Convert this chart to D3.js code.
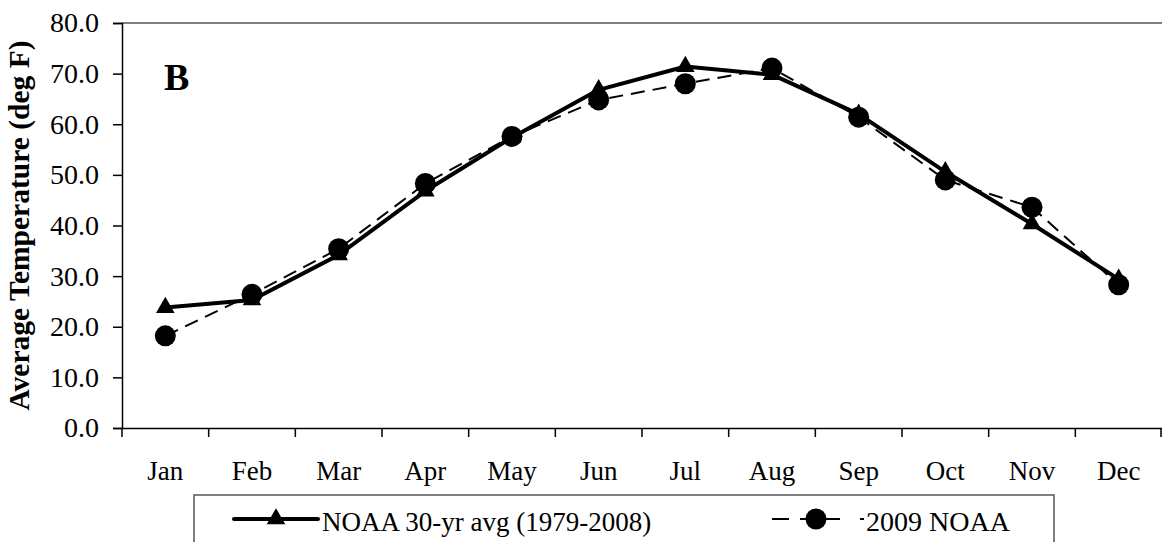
<!DOCTYPE html>
<html>
<head>
<meta charset="utf-8">
<script src="https://cdn.jsdelivr.net/npm/d3@7"></script>
<style>
    body { margin: 0; background: #fff; }
    svg { display: block; font-family: "Liberation Serif", "Times New Roman", serif; }
</style>
</head>
<body>
<svg id="chart" width="1162" height="542"></svg>
<script>
// data
const months = ["Jan", "Feb", "Mar", "Apr", "May", "Jun", "Jul", "Aug", "Sep", "Oct", "Nov", "Dec"];
const avg30yr = [23.8, 25.3, 34.2, 46.8, 57.4, 66.8, 71.4, 69.8, 62.0, 50.6, 40.3, 29.4];
const noaa2009 = [18.2, 26.4, 35.4, 48.3, 57.6, 64.8, 68.0, 71.1, 61.4, 49.0, 43.6, 28.3];
const yTicks = [0, 10, 20, 30, 40, 50, 60, 70, 80];
const seriesNames = ["NOAA 30-yr avg (1979-2008)", "2009 NOAA"];

const svg = d3.select("#chart");
const width = 1162;
const plotLeft = 122, plotTop = 23, plotBottom = 428;

const x = d3.scaleBand().domain(months).range([plotLeft, width]);
const y = d3.scaleLinear().domain([0, 80]).range([plotBottom, plotTop]);

// plot area top border
svg.append("line")
    .attr("x1", plotLeft).attr("x2", width)
    .attr("y1", plotTop).attr("y2", plotTop)
    .attr("stroke", "#555").attr("stroke-width", 1.5);

// y axis
const yAxis = svg.append("g")
    .attr("transform", "translate(" + plotLeft + ",0)")
    .call(d3.axisLeft(y).tickValues(yTicks).tickFormat(d3.format(".1f")).tickSize(9));
yAxis.select(".domain").attr("stroke", "#000").attr("stroke-width", 1.5);
yAxis.selectAll(".tick line").attr("stroke", "#000").attr("stroke-width", 1.5);
yAxis.selectAll("text")
    .attr("x", -23)
    .attr("font-size", 28).attr("fill", "#000")
    .style("font-family", "Liberation Serif");

// x axis (labels at centers, ticks at band edges)
const xAxis = svg.append("g")
    .attr("transform", "translate(0," + plotBottom + ")")
    .call(d3.axisBottom(x).tickSize(0).tickPadding(33).tickSizeOuter(0));
xAxis.select(".domain").attr("stroke", "#000").attr("stroke-width", 1.5);
xAxis.selectAll("text").attr("font-size", 27).attr("fill", "#000")
    .style("font-family", "Liberation Serif");

const edges = months.map(m => x(m)).concat([width - 1]);
svg.append("g").selectAll("line")
    .data(edges)
    .enter()
    .append("line")
    .attr("x1", d => d).attr("x2", d => d)
    .attr("y1", plotBottom).attr("y2", plotBottom + 9)
    .attr("stroke", "#000").attr("stroke-width", 1.5);

// y axis title
svg.append("text")
    .attr("transform", "translate(29," + ((plotTop + plotBottom) / 2) + ") rotate(-90)")
    .attr("text-anchor", "middle")
    .attr("font-size", 29.5)
    .attr("font-weight", "bold")
    .text("Average Temperature (deg F)");

// panel letter
svg.append("text")
    .attr("x", 164).attr("y", 90)
    .attr("font-size", 38)
    .attr("font-weight", "bold")
    .text("B");

const line = d3.line()
    .x((d, i) => x(months[i]) + x.bandwidth() / 2)
    .y(d => y(d));

const triangle = d3.symbol().type(d3.symbolTriangle).size(150);

// 30-yr average series
svg.append("path")
    .datum(avg30yr)
    .attr("d", line)
    .attr("fill", "none")
    .attr("stroke", "#000")
    .attr("stroke-width", 4)
    .attr("stroke-linejoin", "round");

svg.append("g").selectAll("path")
    .data(avg30yr)
    .enter()
    .append("path")
    .attr("d", triangle)
    .attr("transform", (d, i) => "translate(" + (x(months[i]) + x.bandwidth() / 2) + "," + y(d) + ")")
    .attr("fill", "#000");

// 2009 series
svg.append("path")
    .datum(noaa2009)
    .attr("d", line)
    .attr("fill", "none")
    .attr("stroke", "#000")
    .attr("stroke-width", 2)
    .attr("stroke-dasharray", "14,8");

svg.append("g").selectAll("circle")
    .data(noaa2009)
    .enter()
    .append("circle")
    .attr("cx", (d, i) => x(months[i]) + x.bandwidth() / 2)
    .attr("cy", d => y(d))
    .attr("r", 10.5)
    .attr("fill", "#000");

// legend
const legend = svg.append("g");
legend.append("rect")
    .attr("x", 194).attr("y", 495)
    .attr("width", 860).attr("height", 80)
    .attr("fill", "#fff")
    .attr("stroke", "#555").attr("stroke-width", 1.5);

const legY = 519;
legend.append("line")
    .attr("x1", 234).attr("x2", 318)
    .attr("y1", legY).attr("y2", legY)
    .attr("stroke", "#000").attr("stroke-width", 4).attr("stroke-linecap", "round");
legend.append("path")
    .attr("d", triangle)
    .attr("transform", "translate(276," + legY + ")");
legend.append("text")
    .attr("x", 322).attr("y", 531)
    .attr("font-size", 27)
    .text(seriesNames[0]);

legend.append("line")
    .attr("x1", 772).attr("x2", 864)
    .attr("y1", legY).attr("y2", legY)
    .attr("stroke", "#000").attr("stroke-width", 2)
    .attr("stroke-dasharray", "17,11,40,20");
legend.append("circle")
    .attr("cx", 816).attr("cy", legY).attr("r", 10.5);
legend.append("text")
    .attr("x", 866).attr("y", 531)
    .attr("font-size", 28)
    .text(seriesNames[1]);
</script>
</body>
</html>
